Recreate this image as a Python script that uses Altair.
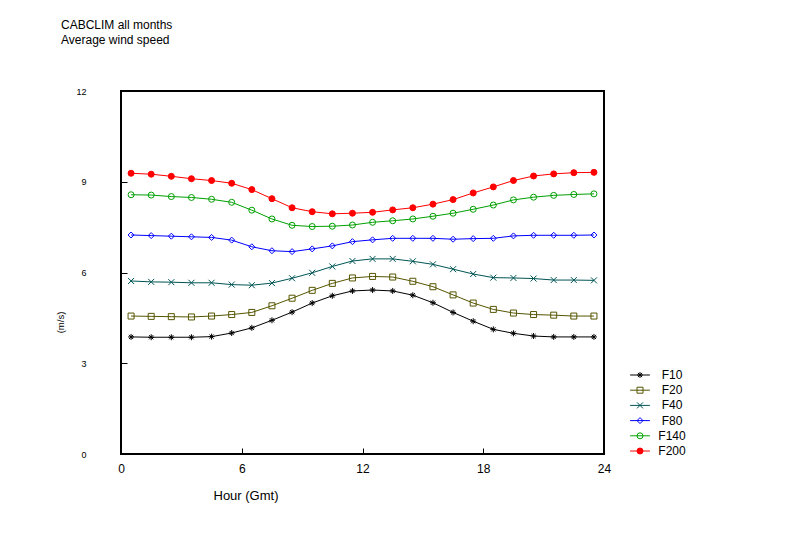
import altair as alt
import pandas as pd

hours = [0.5, 1.5, 2.5, 3.5, 4.5, 5.5, 6.5, 7.5, 8.5, 9.5, 10.5, 11.5,
         12.5, 13.5, 14.5, 15.5, 16.5, 17.5, 18.5, 19.5, 20.5, 21.5, 22.5, 23.5]

series_names = ["F10", "F20", "F40", "F80", "F140", "F200"]

f10 = [3.87, 3.86, 3.86, 3.86, 3.88, 4.00, 4.17, 4.42, 4.69, 4.99, 5.23, 5.39,
       5.42, 5.39, 5.25, 5.00, 4.68, 4.39, 4.12, 3.99, 3.90, 3.87, 3.87, 3.87]
f20 = [4.56, 4.55, 4.54, 4.53, 4.56, 4.61, 4.68, 4.90, 5.15, 5.41, 5.64, 5.82,
       5.87, 5.85, 5.71, 5.53, 5.26, 4.99, 4.78, 4.66, 4.61, 4.59, 4.56, 4.56]
f40 = [5.72, 5.69, 5.68, 5.66, 5.66, 5.60, 5.58, 5.65, 5.81, 5.99, 6.20, 6.38,
       6.45, 6.45, 6.37, 6.27, 6.11, 5.95, 5.83, 5.82, 5.80, 5.75, 5.75, 5.74]
f80 = [7.24, 7.22, 7.20, 7.18, 7.16, 7.07, 6.85, 6.72, 6.69, 6.78, 6.88, 7.02,
       7.08, 7.13, 7.13, 7.13, 7.10, 7.12, 7.13, 7.21, 7.23, 7.23, 7.23, 7.24]
f140 = [8.57, 8.56, 8.51, 8.48, 8.42, 8.32, 8.06, 7.77, 7.56, 7.52, 7.53, 7.57,
        7.66, 7.71, 7.77, 7.86, 7.96, 8.09, 8.23, 8.40, 8.49, 8.55, 8.58, 8.60]
f200 = [9.28, 9.25, 9.18, 9.10, 9.04, 8.95, 8.74, 8.44, 8.14, 8.01, 7.94, 7.96,
        7.99, 8.07, 8.14, 8.26, 8.41, 8.63, 8.83, 9.04, 9.19, 9.26, 9.30, 9.31]

x_ticks = [0, 6, 12, 18, 24]
y_ticks = [0, 3, 6, 9, 12]

colors = ["#000000", "#555500", "#005555", "#0000ff", "#00a000", "#ff0000"]
fills = ["transparent", "transparent", "transparent", "transparent", "transparent", "#ff0000"]
asterisk = "M-1,0L1,0M0,-1L0,1M-0.7,-0.7L0.7,0.7M-0.7,0.7L0.7,-0.7"
xmark = "M-1,-1L1,1M-1,1L1,-1"
shapes = [asterisk, "square", xmark, "diamond", "circle", "circle"]

rows = []
for name, vals in zip(series_names, [f10, f20, f40, f80, f140, f200]):
    for h, v in zip(hours, vals):
        rows.append({"hour": h, "speed": v, "series": name, "line_series": name})
df = pd.DataFrame(rows)

FONT = "Liberation Sans"

x_enc = alt.X(
    "hour:Q",
    scale=alt.Scale(domain=[0, 24], nice=False, zero=False),
    axis=alt.Axis(values=x_ticks, title="Hour (Gmt)", offset=-6, domain=False,
                  tickSize=6, tickColor="black", tickWidth=1, grid=False,
                  labelPadding=9, labelFontSize=12, labelColor="black", labelFont=FONT,
                  labelFlush=False, labelOverlap=False,
                  titleFontSize=13, titleFontWeight="normal", titleColor="black", titleFont=FONT,
                  titleX=92, titleY=47, titleAlign="left", titleBaseline="middle"),
)
y_enc = alt.Y(
    "speed:Q",
    scale=alt.Scale(domain=[0, 12], nice=False, zero=False),
    axis=alt.Axis(values=y_ticks, title="(m/s)", offset=-6, domain=False,
                  tickSize=6, tickColor="black", tickWidth=1, grid=False,
                  labelPadding=35, labelFontSize=9, labelColor="black", labelFont=FONT,
                  labelFlush=False, labelOverlap=False,
                  titleFontSize=9.5, titleFontWeight="normal", titleColor="black", titleFont=FONT,
                  titleX=-67, titleY=231, titleAlign="center", titleBaseline="middle", titleAngle=270),
)

line_legend = alt.Legend(orient="none", legendX=513, legendY=278, title=None, padding=0,
                         symbolType="M-3.3,0L3.3,0", symbolSize=36, symbolStrokeWidth=1,
                         labelFontSize=12, labelFont=FONT, labelColor="transparent",
                         labelAlign="center", labelOffset=26, rowPadding=3.2)
point_legend = alt.Legend(orient="none", legendX=513, legendY=278, title=None, padding=0,
                          symbolSize=36, symbolStrokeWidth=1,
                          labelFontSize=12, labelFont=FONT, labelColor="black",
                          labelAlign="center", labelOffset=26, rowPadding=3.2)

lines = alt.Chart(df).mark_line(strokeWidth=1).encode(
    x=x_enc, y=y_enc,
    color=alt.Color("line_series:N", sort=series_names, scale=alt.Scale(range=colors),
                    legend=line_legend),
)

points = alt.Chart(df).mark_point(filled=False, size=36, strokeWidth=1, opacity=1).encode(
    x=x_enc, y=y_enc,
    stroke=alt.Stroke("series:N", scale=alt.Scale(domain=series_names, range=colors), legend=point_legend),
    fill=alt.Fill("series:N", scale=alt.Scale(domain=series_names, range=fills), legend=point_legend),
    shape=alt.Shape("series:N", scale=alt.Scale(domain=series_names, range=shapes), legend=point_legend),
)

chart = alt.layer(lines, points).properties(
    width=483, height=363,
    background="white",
    autosize=alt.AutoSizeParams(type="none"),
    padding={"left": 113, "top": 83, "right": 180, "bottom": 84},
    title=alt.TitleParams(text=["CABCLIM all months", "Average wind speed"], anchor="start",
                          frame="group", dx=-60, offset=40, fontSize=12, fontWeight="normal",
                          font=FONT, color="black", lineHeight=15),
).configure_view(stroke="black", strokeWidth=2)

chart.save("out.html", embed_options={"renderer": "svg", "actions": False})
